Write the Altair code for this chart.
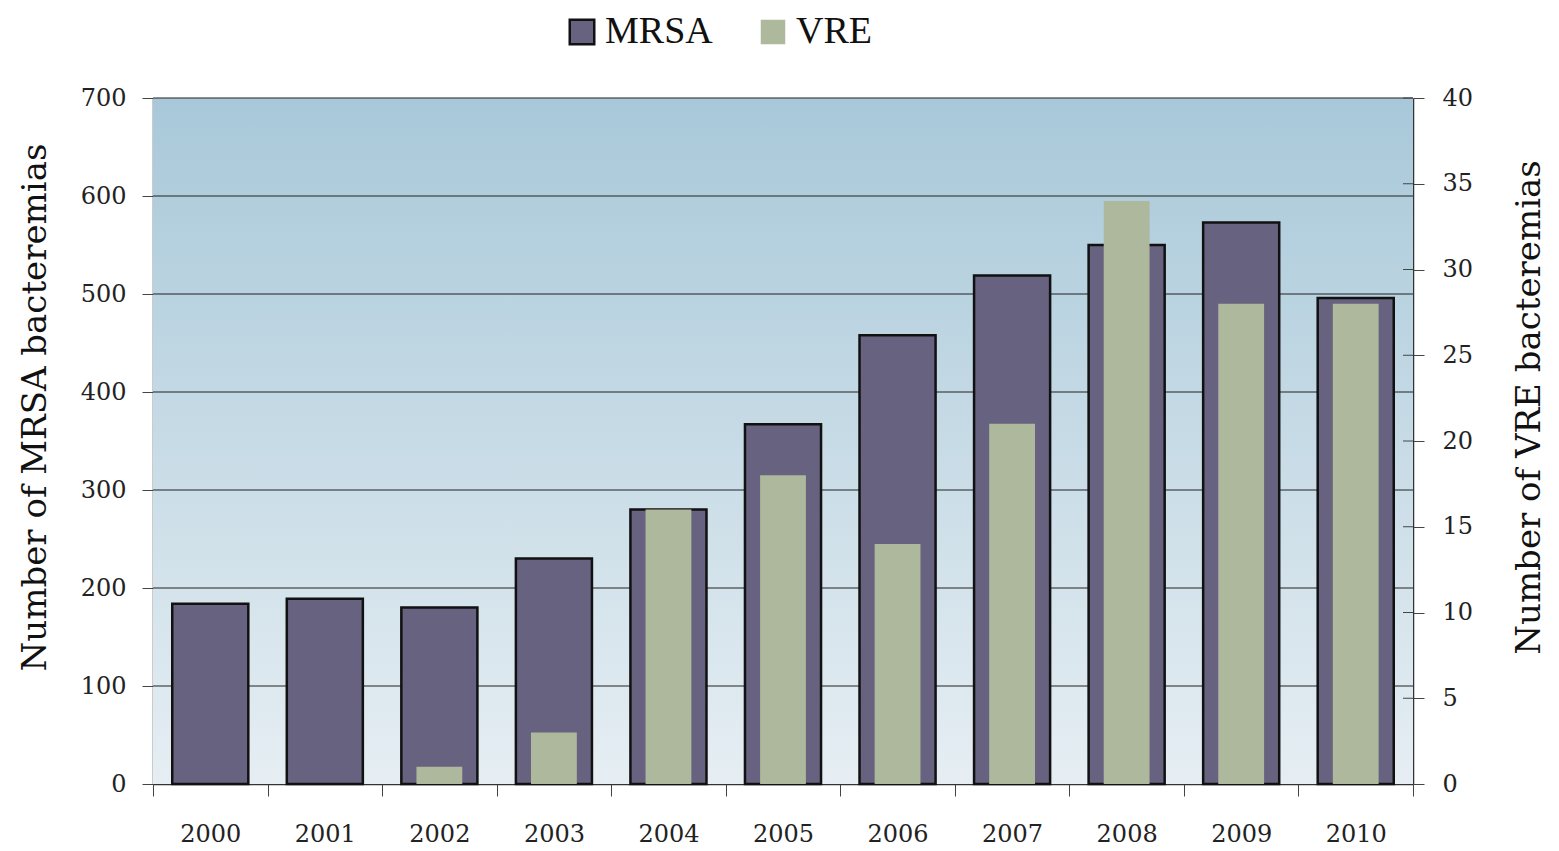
import altair as alt
import pandas as pd

years = ["2000", "2001", "2002", "2003", "2004", "2005", "2006", "2007", "2008", "2009", "2010"]
mrsa = [184, 189, 180, 230, 280, 367, 458, 519, 550, 573, 496]
vre = [0, 0, 1, 3, 16, 18, 14, 21, 34, 28, 28]
series_names = ["MRSA", "VRE"]
mrsa_ticks = [0, 100, 200, 300, 400, 500, 600, 700]
vre_ticks = [0, 5, 10, 15, 20, 25, 30, 35, 40]

df = pd.DataFrame({
    "year": years * 2,
    "value": mrsa + vre,
    "series": ["MRSA"] * len(years) + ["VRE"] * len(years),
})
grid_df = pd.DataFrame({"g": mrsa_ticks[1:]})
rtick_df = pd.DataFrame({"t": vre_ticks[1:]})
bg_df = pd.DataFrame({"k": [0]})

FONT = "DejaVu Serif"
LFONT = "Liberation Serif"
W, H = 1260, 686

color_scale = alt.Scale(domain=series_names, range=["#67627f", "#adb89c"])
stroke_scale = alt.Scale(domain=series_names, range=["#111111", "transparent"])
legend = alt.Legend(
    title=None, orient="none", legendX=410, legendY=-85, direction="horizontal",
    symbolType="square", symbolSize=600, symbolStrokeWidth=2.5,
    labelFont=LFONT, labelFontSize=38, labelColor="#111", labelOffset=4,
    columnPadding=41, labelLimit=300,
)

x_enc = alt.X(
    "year:N", sort=years, title=None,
    scale=alt.Scale(paddingInner=0, paddingOuter=0),
    axis=alt.Axis(
        tickBand="extent", labelAngle=0, labelFont=FONT, labelFontSize=24,
        labelColor="#222", labelPadding=26, tickSize=12, tickColor="#444",
        domainColor="#333", domainWidth=1.5, grid=False,
    ),
)

bg = alt.Chart(bg_df).mark_rect(
    fill=alt.LinearGradient(
        gradient="linear", x1=0, y1=0, x2=0, y2=1,
        stops=[alt.GradientStop(offset=0, color="#a8c8d9"),
               alt.GradientStop(offset=1, color="#e6eef3")],
    )
).encode(x=alt.value(0), x2=alt.value("width"), y=alt.value(0), y2=alt.value("height"))

grid = alt.Chart(grid_df).mark_rule(color="#222", strokeWidth=1.2).encode(
    y=alt.Y("g:Q", scale=alt.Scale(domain=[0, 700]), axis=None),
    x=alt.value(0), x2=alt.value("width"),
)

rticks = alt.Chart(rtick_df).mark_rule(color="#444", strokeWidth=1).encode(
    y=alt.Y("t:Q", scale=alt.Scale(domain=[0, 40]), axis=None),
    x=alt.value(W - 10), x2=alt.value("width"),
)

base = alt.Chart(df)

mrsa_layer = base.transform_filter(alt.datum.series == "MRSA").mark_bar(
    strokeWidth=2.5, width=alt.RelativeBandSize(0.664)
).encode(
    x=x_enc,
    y=alt.Y(
        "value:Q", scale=alt.Scale(domain=[0, 700]),
        title="Number of MRSA bacteremias",
        axis=alt.Axis(
            orient="left", values=mrsa_ticks,
            labelFont=FONT, labelFontSize=24, labelColor="#222", labelPadding=16,
            tickSize=11, tickColor="#444", domainColor="#333", domainWidth=1.5,
            grid=False,
            titleFont=FONT, titleFontSize=34, titleFontWeight="normal", titleColor="#111",
            titlePadding=28, titleY=309,
        ),
    ),
    color=alt.Color("series:N", scale=color_scale, legend=legend),
    stroke=alt.Stroke("series:N", scale=stroke_scale, legend=legend),
)

vre_layer = base.transform_filter(alt.datum.series == "VRE").mark_bar(
    width=alt.RelativeBandSize(0.4)
).encode(
    x=x_enc,
    y=alt.Y(
        "value:Q", scale=alt.Scale(domain=[0, 40]),
        title="Number of VRE bacteremias",
        axis=alt.Axis(
            orient="right", values=vre_ticks,
            labelFont=FONT, labelFontSize=24, labelColor="#222", labelPadding=18,
            tickSize=11, tickColor="#444", domainColor="#333", domainWidth=1.5,
            grid=False,
            titleFont=FONT, titleFontSize=34, titleFontWeight="normal", titleColor="#111",
            titlePadding=74, titleAngle=270, titleY=309,
        ),
    ),
    color=alt.Color("series:N", scale=color_scale, legend=legend),
    stroke=alt.Stroke("series:N", scale=stroke_scale, legend=legend),
)

chart = alt.layer(bg, grid, rticks, mrsa_layer, vre_layer).resolve_scale(y="independent").properties(
    width=W, height=H,
    autosize=alt.AutoSizeParams(type="none"),
    padding={"left": 145, "top": 90, "right": 138, "bottom": 64},
    background="white",
).configure_view(stroke=None)

chart.save("out.html", embed_options={"renderer": "svg", "actions": False})
